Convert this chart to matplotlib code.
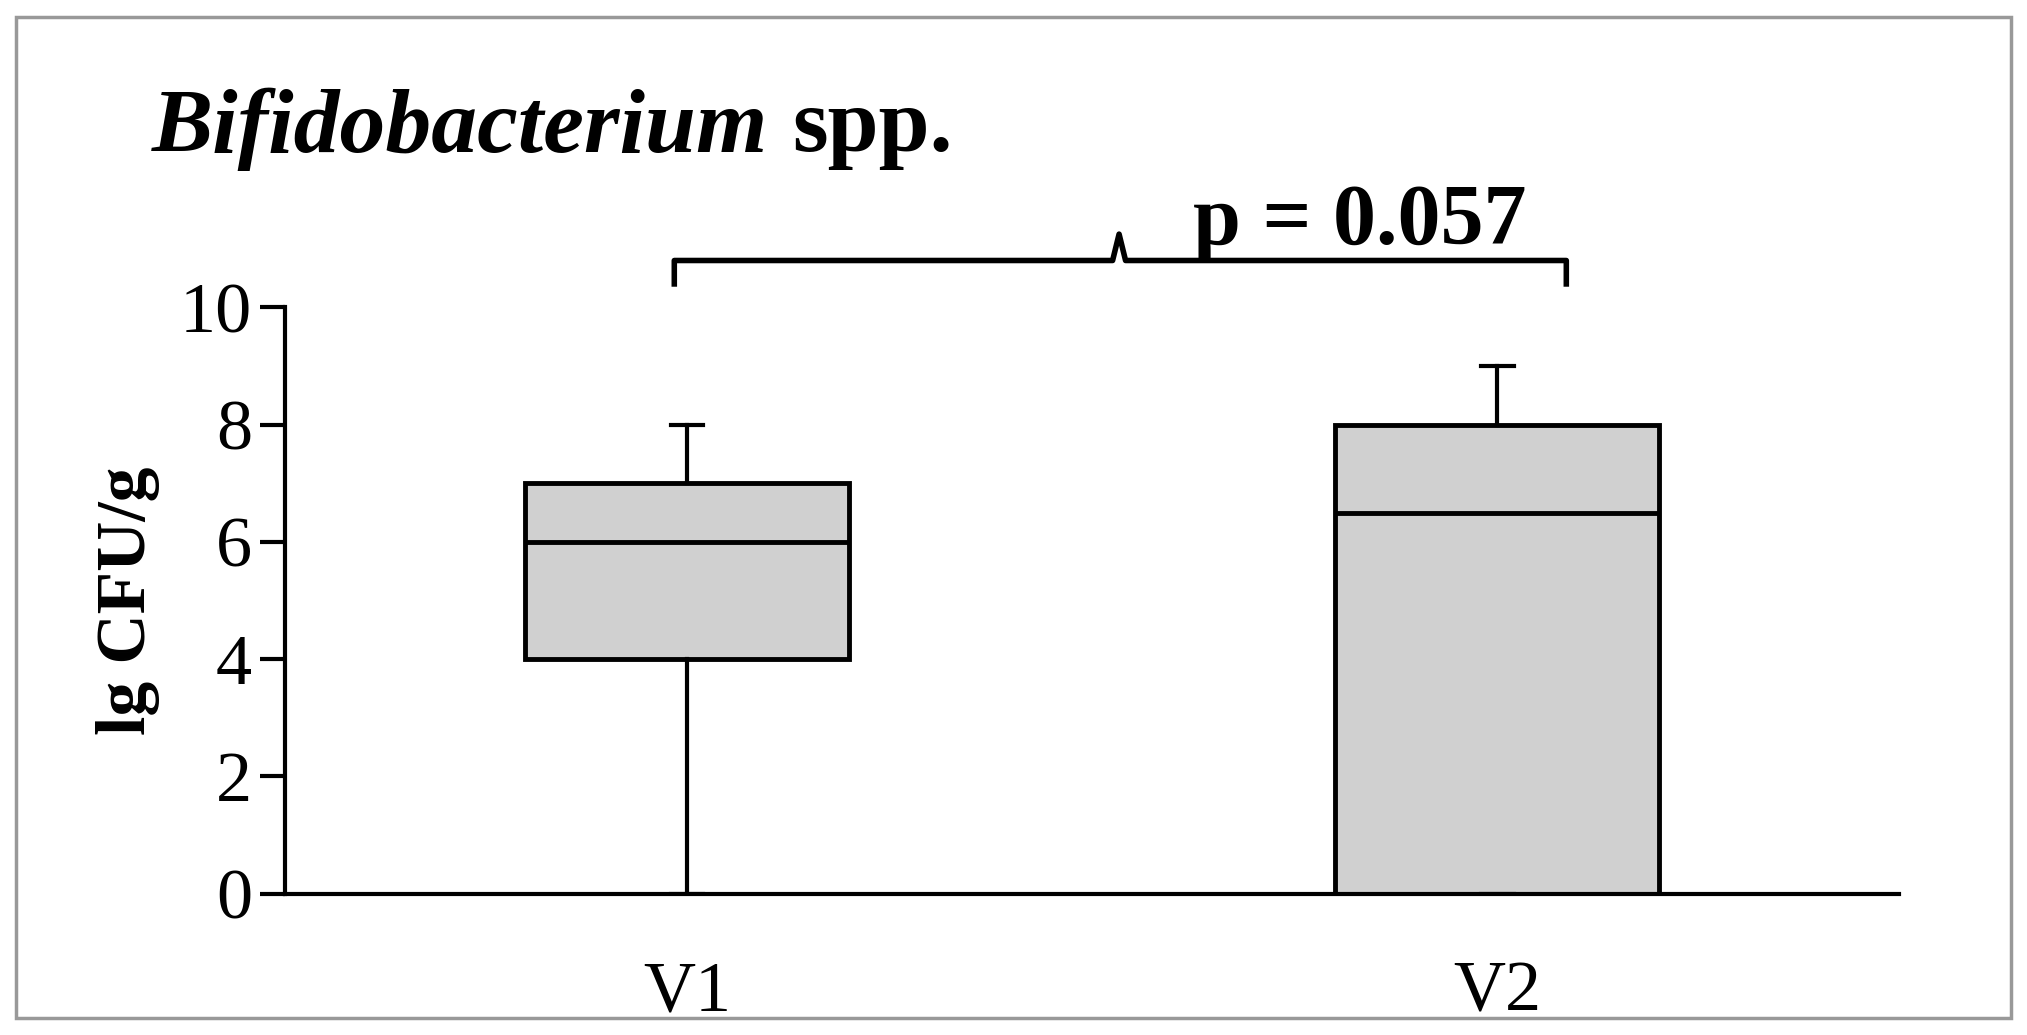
import matplotlib
matplotlib.use("Agg")
import matplotlib.pyplot as plt
from matplotlib.patches import Rectangle

groups = ["V1", "V2"]
whislo = [0, 0]
q1 = [4, 0]
med = [6, 6.5]
q3 = [7, 8]
whishi = [8, 9]
p_text = "p = 0.057"
yticks = [0, 2, 4, 6, 8, 10]

plt.rcParams['font.family'] = ['Liberation Serif', 'DejaVu Serif']
fig = plt.figure(figsize=(20.27, 10.35), dpi=100)
fig.patches.append(Rectangle((0.008, 0.016), 0.984, 0.968, transform=fig.transFigure,
                             fill=False, edgecolor='#999999', lw=2.5))
ax = fig.add_axes([0.1408, 0.1366, 0.7962, 0.5664])
stats = [dict(label=g, whislo=a, q1=b, med=c, q3=d, whishi=e, fliers=[])
         for g, a, b, c, d, e in zip(groups, whislo, q1, med, q3, whishi)]
ax.bxp(stats, positions=[1, 2], widths=0.4, patch_artist=True, showfliers=False,
       capwidths=0.04,
       boxprops=dict(facecolor='#d0d0d0', edgecolor='black', linewidth=3.5),
       medianprops=dict(color='black', linewidth=3.5),
       whiskerprops=dict(color='black', linewidth=3),
       capprops=dict(color='black', linewidth=3))
ax.set_xlim(0.504, 2.496)
ax.set_ylim(0, 10)
ax.set_yticks(yticks)
ax.set_xticks([1, 2])
ax.set_xticklabels(groups)
for s in ['top', 'right']:
    ax.spines[s].set_visible(False)
for s in ['left', 'bottom']:
    ax.spines[s].set_linewidth(3)
ax.tick_params(axis='y', direction='out', length=18, width=3, labelsize=52, pad=6)
ax.tick_params(axis='x', length=0, labelsize=52, pad=48)
ax.set_ylabel("lg CFU/g", fontsize=50, fontweight='bold', labelpad=14)

# brace
xl, xr, xm = 0.984, 2.085, 1.533
yb, yt, ym = 10.4, 10.8, 11.25
ax.plot([xl, xl, xm - 0.008, xm, xm + 0.008, xr, xr],
        [yb, yt, yt, ym, yt, yt, yb], color='black', lw=4, clip_on=False)
ax.text(1.83, 10.75, p_text, fontsize=62, fontweight='bold', ha='center', va='bottom')

t = fig.text(0.075, 0.875, "Bifidobacterium", fontsize=66, fontweight='bold',
             fontstyle='italic', ha='left', va='center')
fig.canvas.draw()
bb = t.get_window_extent().transformed(fig.transFigure.inverted())
fig.text(bb.x1 + 0.012, 0.875, "spp.", fontsize=66, fontweight='bold', ha='left', va='center')
fig.savefig("out.png", dpi=100)
